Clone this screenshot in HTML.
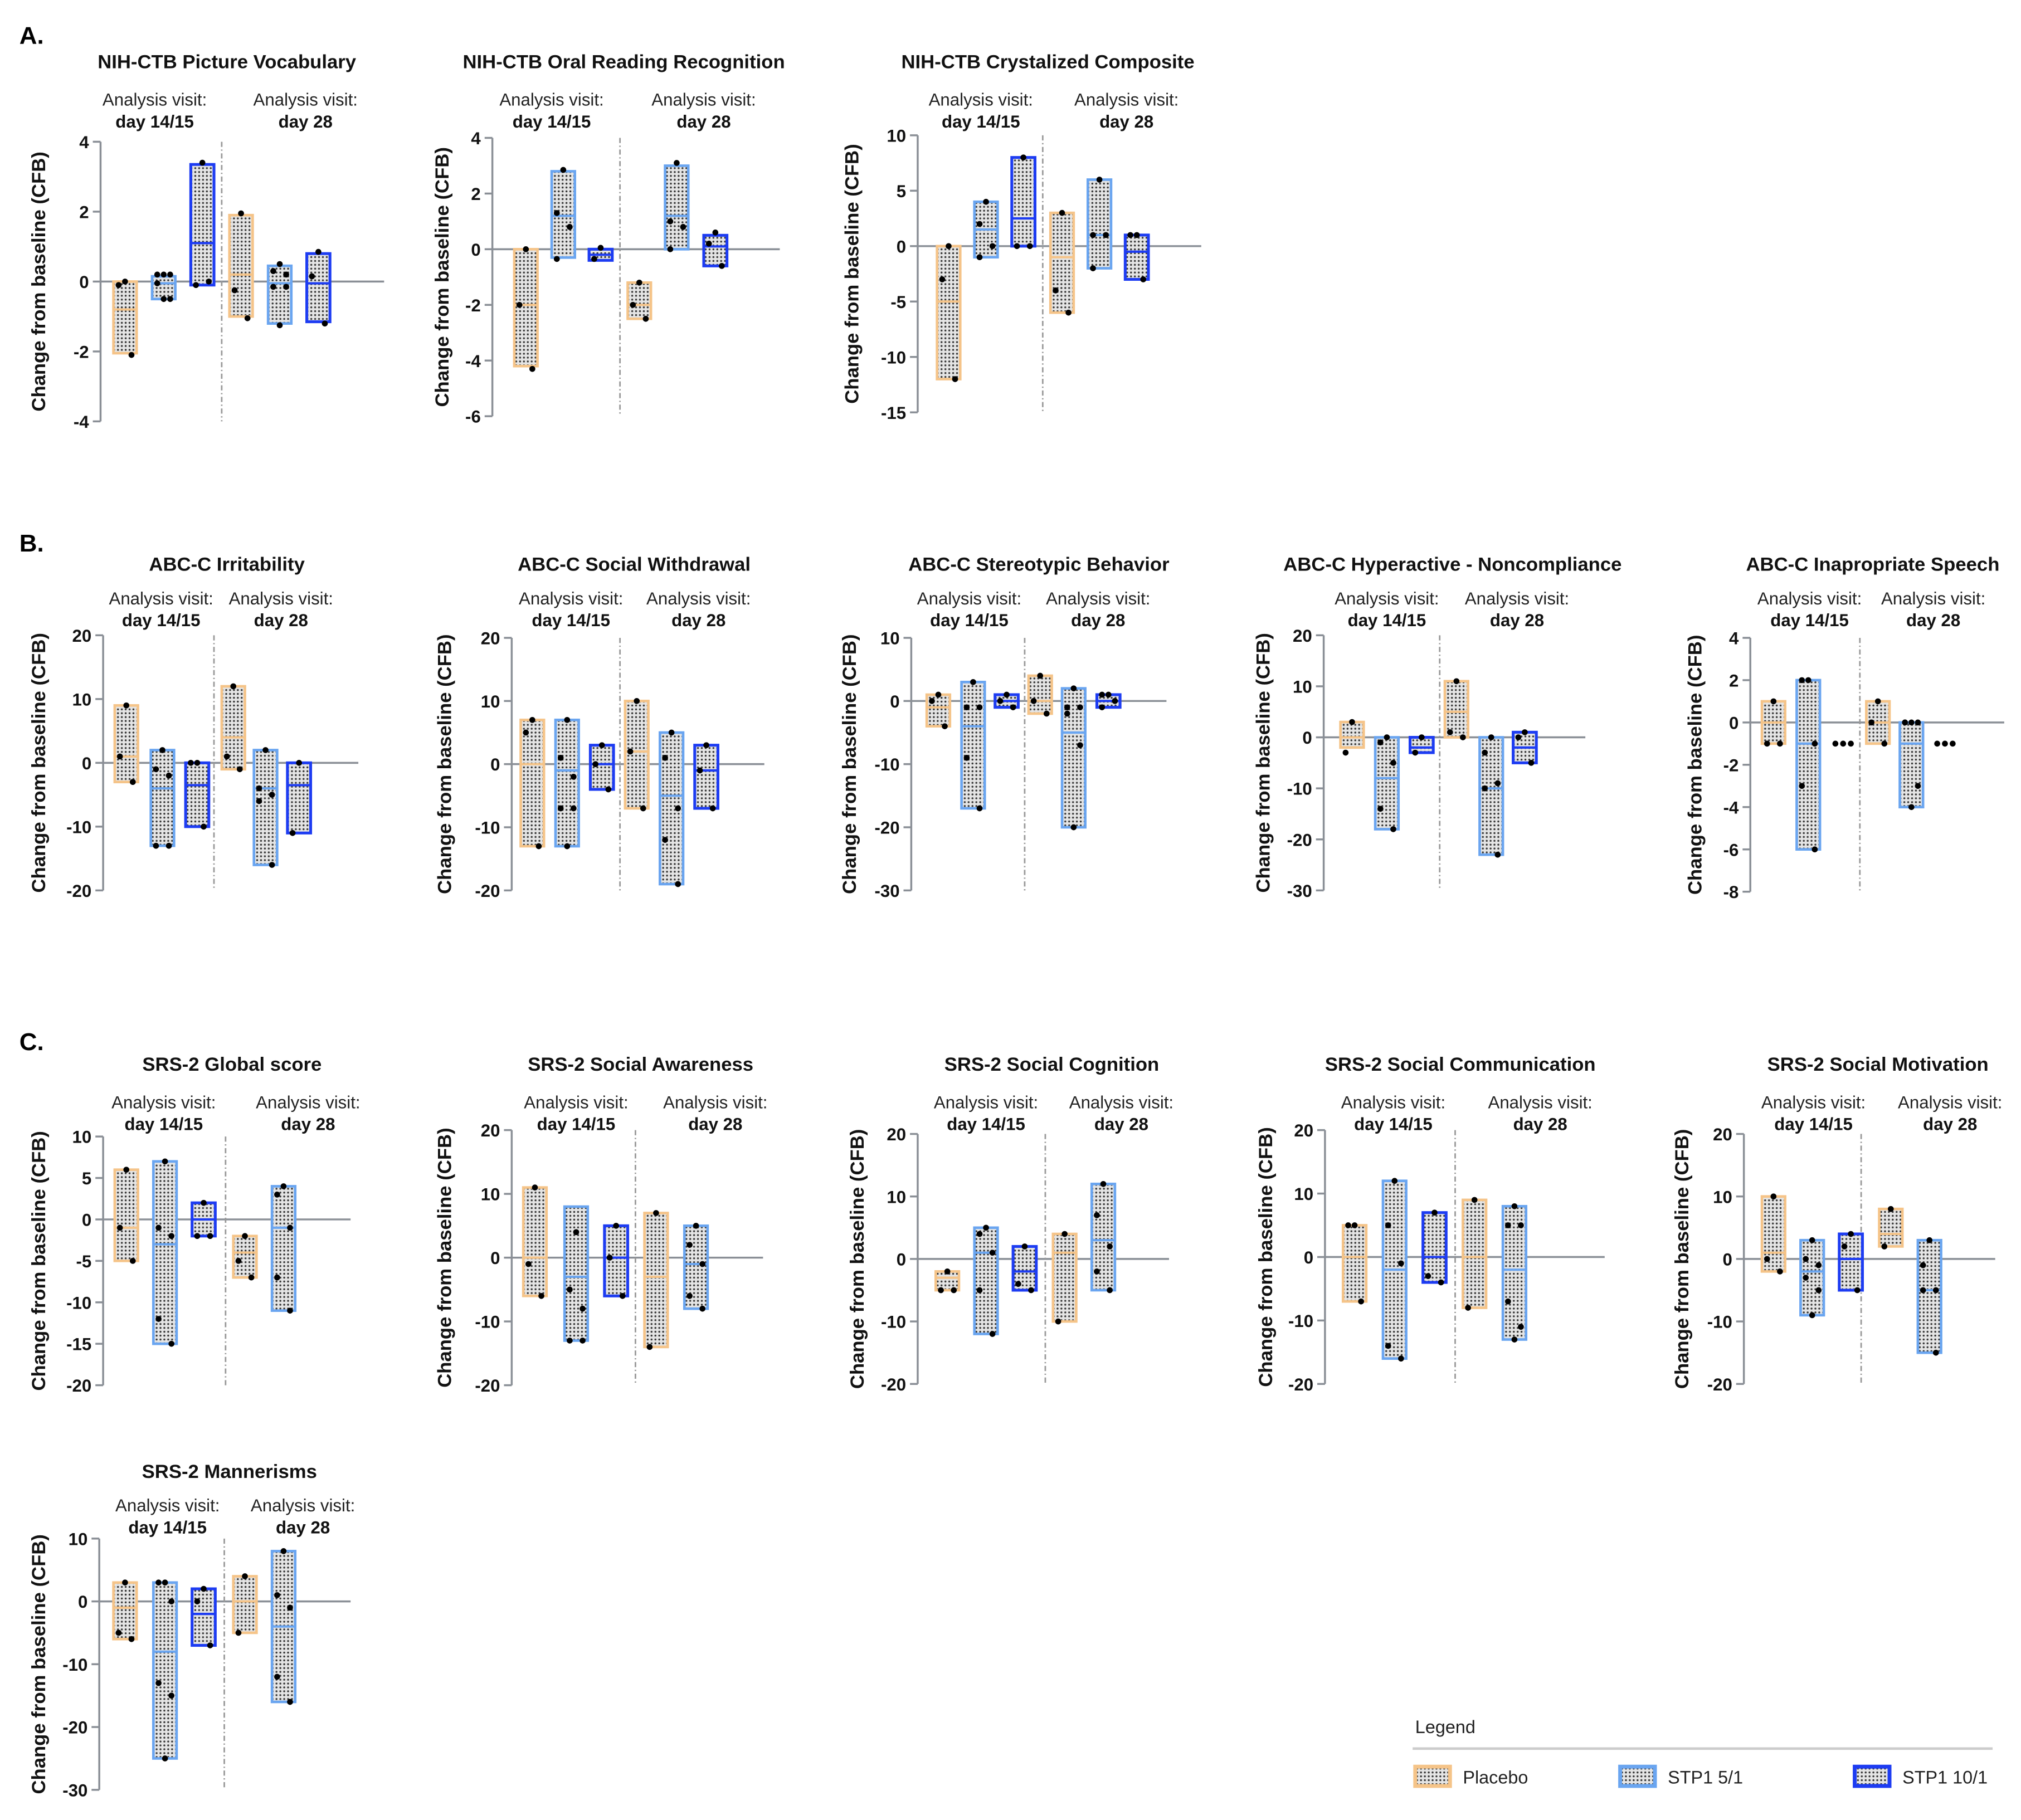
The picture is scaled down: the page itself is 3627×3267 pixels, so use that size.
<!DOCTYPE html>
<html><head><meta charset="utf-8"><style>html,body{margin:0;padding:0;background:#fff}svg{display:block}</style></head>
<body>
<svg id="fig" width="3627" height="3267" viewBox="0 0 1568 1412.4" xmlns="http://www.w3.org/2000/svg" font-family="Liberation Sans, Arial, sans-serif">
<defs>
<pattern id="dots" width="3" height="3" patternUnits="userSpaceOnUse"><rect width="3" height="3" fill="#e4e4e4"/><circle cx="1.5" cy="1.5" r="0.75" fill="#333"/></pattern>
</defs>
<text x="15" y="34" font-size="19" font-weight="bold">A.</text>
<text x="15" y="428" font-size="19" font-weight="bold">B.</text>
<text x="15" y="815" font-size="19" font-weight="bold">C.</text>
<g>
<text x="1098" y="1345" font-size="14" fill="#222">Legend</text>
<line x1="1096" y1="1357" x2="1546" y2="1357" stroke="#ccc" stroke-width="2"/>
<g><rect x="1098" y="1371" width="27" height="15" fill="url(#dots)" stroke="#f5c489" stroke-width="3"/><text x="1135" y="1384" font-size="14" fill="#222">Placebo</text></g>
<g><rect x="1257" y="1371" width="27" height="15" fill="url(#dots)" stroke="#6aa5f0" stroke-width="3"/><text x="1294" y="1384" font-size="14" fill="#222">STP1 5/1</text></g>
<g><rect x="1439" y="1371" width="27" height="15" fill="url(#dots)" stroke="#1d3cf2" stroke-width="3"/><text x="1476" y="1384" font-size="14" fill="#222">STP1 10/1</text></g>
</g>
</svg>
<script>
// ---- data: per panel lows, highs, medians, points (order: placebo, 5/1, 10/1 at day14/15, then day28) ----
const A1_lo=[-2.05,-0.5,-0.1,-1.0,-1.2,-1.15], A1_hi=[0,0.15,3.35,1.9,0.45,0.8], A1_med=[-0.8,-0.05,1.1,0.2,-0.05,-0.05];
const A1_pts=[[0,-0.1,-2.1],[0.2,0.2,0.2,-0.05,-0.5,-0.5],[3.4,-0.1,0],[1.95,-0.25,-1.05],[0.5,0.3,0.2,-0.15,-0.15,-1.25],[0.85,0.15,-1.2]];
const A2_lo=[-4.2,-0.3,-0.4,-2.5,0,-0.6], A2_hi=[0,2.8,0,-1.2,3.0,0.5], A2_med=[-2,1.2,-0.2,-2,1.2,0.1];
const A2_pts=[[0,-2,-4.3],[2.85,1.3,0.8,-0.35],[0.05,-0.35],[-1.2,-2.0,-2.5],[3.1,1.0,0.8,0],[0.6,0.2,-0.6]];
const A3_lo=[-12,-1,0,-6,-2,-3], A3_hi=[0,4,8,3,6,1], A3_med=[-5,1.5,2.5,-1,1,-0.5];
const A3_pts=[[0,-3,-12],[4,2,0,-1],[8,0,0],[3,-4,-6],[6,1,1,-2],[1,1,-3]];
const B1_lo=[-3,-13,-10,-1,-16,-11], B1_hi=[9,2,0,12,2,0], B1_med=[1,-4,-3.5,4,-4,-3.5];
const B1_pts=[[9,1,-3],[2,-1,-2,-13,-13],[0,0,-10],[12,1,-1],[2,-4,-5,-6,-16],[0,-11]];
const B2_lo=[-13,-13,-4,-7,-19,-7], B2_hi=[7,7,3,10,5,3], B2_med=[0,-1,0,2,-5,-1];
const B2_pts=[[7,5,-13],[7,1,-2,-7,-7,-13],[3,0,-4],[10,2,-7],[5,1,-7,-12,-19],[3,-1,-7]];
const B3_lo=[-4,-17,-1,-2,-20,-1], B3_hi=[1,3,1,4,2,1], B3_med=[-1,-4,0,0,-5,0];
const B3_pts=[[1,0,-4],[3,-1,-1,-9,-17],[1,0,-1],[4,0,-2],[2,-1,-1,-2,-7,-20],[1,1,0,-1]];
const B4_lo=[-2,-18,-3,0,-23,-5], B4_hi=[3,0,0,11,0,1], B4_med=[0,-8,-2,5,-10,-2];
const B4_pts=[[3,-3],[0,-1,-5,-14,-18],[0,-3],[11,1,0],[0,-3,-9,-10,-23],[1,0,-5]];
const B5_lo=[-1,-6,-1,-1,-4,-1], B5_hi=[1,2,-1,1,0,-1], B5_med=[0,-1,-1,0,-1,-1];
const B5_pts=[[1,-1,-1],[2,2,-1,-3,-6],[-1,-1,-1],[1,0,-1],[0,0,0,0,-3,-4],[-1,-1,-1]];
const C1_lo=[-5,-15,-2,-7,-11], C1_hi=[6,7,2,-2,4], C1_med=[-1,-3,0,-4,-1];
const C1_pts=[[6,-1,-5],[7,-1,-2,-12,-15],[2,-2,-2],[-2,-5,-7],[4,3,-1,-7,-11]];
const C2_lo=[-6,-13,-6,-14,-8], C2_hi=[11,8,5,7,5], C2_med=[0,-3,0,-3,-1];
const C2_pts=[[11,-1,-6],[4,-5,-8,-13,-13],[5,0,-6],[7,-14],[5,2,-1,-6,-8]];
const C3_lo=[-5,-12,-5,-10,-5], C3_hi=[-2,5,2,4,12], C3_med=[-3,1,-2,1,3];
const C3_pts=[[-2,-5,-5],[5,4,1,-5,-12],[2,-4,-5],[4,-10],[12,7,2,-2,-5]];
const C4_lo=[-7,-16,-4,-8,-13], C4_hi=[5,12,7,9,8], C4_med=[0,-2,0,0,-2];
const C4_pts=[[5,5,-7],[12,5,-1,-14,-16],[7,-3,-4],[9,-8],[8,5,5,-7,-11,-13]];
const C5_lo=[-2,-9,-5,2,-15], C5_hi=[10,3,4,8,3], C5_med=[1,-2,0,4,-5];
const C5_pts=[[10,0,-2],[3,0,-1,-3,-5,-9],[4,2,-5],[8,2],[3,-1,-5,-5,-15]];
const C6_lo=[-6,-25,-7,-5,-16], C6_hi=[3,3,2,4,8], C6_med=[-1,-8,-2,0,-4];
const C6_pts=[[3,-5,-6],[3,3,0,-13,-15,-25],[2,0,-7],[4,-5],[8,1,-1,-12,-16]];
const A1_ticks=[4,2,0,-2,-4], A2_ticks=[4,2,0,-2,-4,-6], A3_ticks=[10,5,0,-5,-10,-15];
const B1_ticks=[20,10,0,-10,-20], B3_ticks=[10,0,-10,-20,-30], B4_ticks=[20,10,0,-10,-20,-30], B5_ticks=[4,2,0,-2,-4,-6,-8];
const C1_ticks=[10,5,0,-5,-10,-15,-20], C2_ticks=[20,10,0,-10,-20], C6_ticks=[10,0,-10,-20,-30];
const titles=["NIH-CTB Picture Vocabulary","NIH-CTB Oral Reading Recognition","NIH-CTB Crystalized Composite","ABC-C Irritability","ABC-C Social Withdrawal","ABC-C Stereotypic Behavior","ABC-C Hyperactive - Noncompliance","ABC-C Inapropriate Speech","SRS-2 Global score","SRS-2 Social Awareness","SRS-2 Social Cognition","SRS-2 Social Communication","SRS-2 Social Motivation","SRS-2 Mannerisms"];
const groupTypes5=[0,1,2,0,1], groupTypes6=[0,1,2,0,1,2];

// ---- layout ----
const panels=[
 {id:'A1',lo:A1_lo,hi:A1_hi,med:A1_med,pts:A1_pts,ticks:A1_ticks,ax:78,yt:110,yb:327,zx:298,dv:172,cx:[97,127,157,187,217,247],ty:48,tx:176,v1:120,v2:237,vy:77,yl:30},
 {id:'A2',lo:A2_lo,hi:A2_hi,med:A2_med,pts:A2_pts,ticks:A2_ticks,ax:382,yt:107,yb:323,zx:605,dv:481,cx:[408,437,466,496,525,555],ty:48,tx:484,v1:428,v2:546,vy:77,yl:343},
 {id:'A3',lo:A3_lo,hi:A3_hi,med:A3_med,pts:A3_pts,ticks:A3_ticks,ax:712,yt:105,yb:320,zx:932,dv:809,cx:[736,765,794,824,853,882],ty:48,tx:813,v1:761,v2:874,vy:77,yl:661},
 {id:'B1',lo:B1_lo,hi:B1_hi,med:B1_med,pts:B1_pts,ticks:B1_ticks,ax:80,yt:493,yb:691,zx:278,dv:166,cx:[98,126,153,181,206,232],ty:438,tx:176,v1:125,v2:218,vy:464,yl:30},
 {id:'B2',lo:B2_lo,hi:B2_hi,med:B2_med,pts:B2_pts,ticks:B1_ticks,ax:397,yt:495,yb:691,zx:593,dv:481,cx:[413,440,467,494,521,548],ty:438,tx:492,v1:443,v2:542,vy:464,yl:345},
 {id:'B3',lo:B3_lo,hi:B3_hi,med:B3_med,pts:B3_pts,ticks:B3_ticks,ax:707,yt:495,yb:691,zx:905,dv:795,cx:[728,755,781,807,833,860],ty:438,tx:806,v1:752,v2:852,vy:464,yl:659},
 {id:'B4',lo:B4_lo,hi:B4_hi,med:B4_med,pts:B4_pts,ticks:B4_ticks,ax:1027,yt:493,yb:691,zx:1230,dv:1117,cx:[1049,1076,1103,1130,1157,1183],ty:438,tx:1127,v1:1076,v2:1177,vy:464,yl:980},
 {id:'B5',lo:B5_lo,hi:B5_hi,med:B5_med,pts:B5_pts,ticks:B5_ticks,ax:1358,yt:495,yb:692,zx:1555,dv:1443,cx:[1376,1403,1430,1457,1483,1509],ty:438,tx:1453,v1:1404,v2:1500,vy:464,yl:1315},
 {id:'C1',lo:C1_lo,hi:C1_hi,med:C1_med,pts:C1_pts,ticks:C1_ticks,ax:80,yt:882,yb:1075,zx:272,dv:175,cx:[98,128,158,190,220],ty:826,tx:180,v1:127,v2:239,vy:855,yl:30},
 {id:'C2',lo:C2_lo,hi:C2_hi,med:C2_med,pts:C2_pts,ticks:C2_ticks,ax:397,yt:877,yb:1075,zx:592,dv:493,cx:[415,447,478,509,540],ty:826,tx:497,v1:447,v2:555,vy:855,yl:345},
 {id:'C3',lo:C3_lo,hi:C3_hi,med:C3_med,pts:C3_pts,ticks:C2_ticks,ax:712,yt:880,yb:1074,zx:907,dv:811,cx:[735,765,795,826,856],ty:826,tx:816,v1:765,v2:870,vy:855,yl:665},
 {id:'C4',lo:C4_lo,hi:C4_hi,med:C4_med,pts:C4_pts,ticks:C2_ticks,ax:1028,yt:877,yb:1074,zx:1245,dv:1129,cx:[1051,1082,1113,1144,1175],ty:826,tx:1133,v1:1081,v2:1195,vy:855,yl:982},
 {id:'C5',lo:C5_lo,hi:C5_hi,med:C5_med,pts:C5_pts,ticks:C2_ticks,ax:1353,yt:880,yb:1074,zx:1548,dv:1444,cx:[1376,1406,1436,1467,1497],ty:826,tx:1457,v1:1407,v2:1513,vy:855,yl:1305},
 {id:'C6',lo:C6_lo,hi:C6_hi,med:C6_med,pts:C6_pts,ticks:C6_ticks,ax:77,yt:1194,yb:1389,zx:272,dv:174,cx:[97,128,158,190,220],ty:1142,tx:178,v1:130,v2:235,vy:1168,yl:30}
];
const colors=['#f5c489','#6aa5f0','#1d3cf2'];
const NS='http://www.w3.org/2000/svg';
const svg=document.getElementById('fig');
function mk(tag,attrs,parent,txt){const e=document.createElementNS(NS,tag);for(const k in attrs)e.setAttribute(k,attrs[k]);if(txt!==undefined)e.textContent=txt;parent.appendChild(e);return e;}
const jit=[0,-5,5,-5,5,0];
panels.forEach((p,pi)=>{
  const g=mk('g',{},svg);
  
  
  const tmax=Math.max(...p.ticks), tmin=Math.min(...p.ticks);
  const y=v=>p.yt+(tmax-v)/(tmax-tmin)*(p.yb-p.yt);
  const t=mk('text',{x:p.tx,y:p.ty+5,'font-size':15,'font-weight':'bold','text-anchor':'middle',fill:'#111'},g,titles[pi]);
  
  
  [[p.v1,'day 14/15'],[p.v2,'day 28']].forEach(([vx,d])=>{
    const a=mk('text',{x:vx,y:p.vy+5,'font-size':13.5,'text-anchor':'middle',fill:'#222'},g,'Analysis visit:');
    
    
    const b=mk('text',{x:vx,y:p.vy+22,'font-size':13.5,'font-weight':'bold','text-anchor':'middle',fill:'#111'},g,d);
    
    
  });
  const yc=(p.yt+p.yb)/2;
  const yl=mk('text',{x:p.yl,y:yc,'font-size':15,'font-weight':'bold','text-anchor':'middle',fill:'#111',transform:`rotate(-90 ${p.yl} ${yc})`,dy:5},g,'Change from baseline (CFB)');
  
  
  const axl=mk('line',{x1:p.ax,y1:p.yt,x2:p.ax,y2:p.yb,stroke:'#8a8f96','stroke-width':1.5},g);
  
  
  p.ticks.forEach(v=>{
    const tk=mk('line',{x1:p.ax-6,y1:y(v),x2:p.ax,y2:y(v),stroke:'#8a8f96','stroke-width':1.5},g);
    
    
    const tl=mk('text',{x:p.ax-9,y:y(v)+5,'font-size':13.5,'font-weight':'bold','text-anchor':'end',fill:'#111'},g,String(v));
    
    
  });
  const zl=mk('line',{x1:p.ax,y1:y(0),x2:p.zx,y2:y(0),stroke:'#8a8f96','stroke-width':1.5},g);
  
  
  const dl=mk('line',{x1:p.dv,y1:p.yt,x2:p.dv,y2:p.yb,stroke:'#999','stroke-width':1.2,'stroke-dasharray':'4 2 1 2'},g);
  
  
  const types=p.lo.length===6?groupTypes6:groupTypes5;
  p.lo.forEach((lo,i)=>{
    const c=colors[types[i]], cx=p.cx[i], w=18;
    const bg=mk('g',{},g);
    
    
    if(p.hi[i]>lo){
      mk('rect',{x:cx-w/2,y:y(p.hi[i]),width:w,height:y(lo)-y(p.hi[i]),fill:'url(#dots)',stroke:c,'stroke-width':types[i]===2?2.2:2},bg);
      mk('line',{x1:cx-w/2,y1:y(p.med[i]),x2:cx+w/2,y2:y(p.med[i]),stroke:c,'stroke-width':1.8},bg);
    }
    p.pts[i].forEach((v,k)=>{
      const dx=p.hi[i]>lo?jit[k%6]:(k-1)*6;
      const d=mk('circle',{cx:cx+dx,cy:y(v),r:2.3,fill:'#000'},bg);
      
      
    });
  });
});
</script>
</body></html>
